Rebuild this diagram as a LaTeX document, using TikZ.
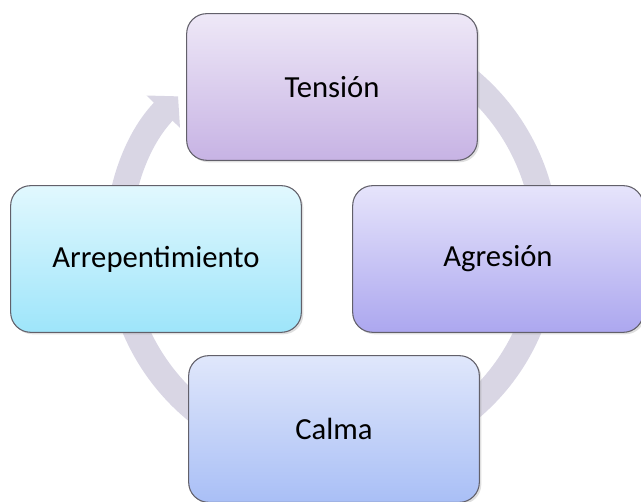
\documentclass[tikz,border=0pt]{standalone}
\usepackage{fontspec}
\setmainfont{Carlito}
\usetikzlibrary{positioning,shadows,arrows.meta}

\definecolor{ringgray}{HTML}{D9D6E4}
\definecolor{edgegray}{HTML}{62606A}
\definecolor{tensiontop}{HTML}{EEE8F7}
\definecolor{tensionbot}{HTML}{C7B3E4}
\definecolor{agresiontop}{HTML}{E6E4FB}
\definecolor{agresionbot}{HTML}{ACA7EF}
\definecolor{arreptop}{HTML}{E1F8FE}
\definecolor{arrepbot}{HTML}{9EE5FA}
\definecolor{calmatop}{HTML}{E0E7FB}
\definecolor{calmabot}{HTML}{A9BFF6}
\tikzset{
  etapa/.style={draw=edgegray,line width=0.8pt,rounded corners=15pt,
    minimum width=218pt,minimum height=110pt,align=center,
    font=\fontsize{23}{27}\selectfont,
    drop shadow={opacity=0.25,shadow xshift=1.5pt,shadow yshift=-1.5pt}},
}

\begin{document}
\begin{tikzpicture}[x=0.75pt,y=0.75pt]
\useasboundingbox (0,0) rectangle (641,502);
%\draw[help lines,step=50] (0,0) grid (641,502);
\coordinate (ctr) at (332,257);
\draw[ringgray,line width=19.5pt,-{Triangle[width=34pt,length=16pt]}]
  (ctr) ++(70:214) arc[start angle=70,end angle=-224,radius=214];
\node[etapa,top color=tensiontop,bottom color=tensionbot] (tension) at (332,415) {Tensión};
\node[etapa,top color=agresiontop,bottom color=agresionbot] (agresion) at (498,243) {Agresión};
\node[etapa,top color=arreptop,bottom color=arrepbot] (arrep) at (156,243) {Arrepentimiento};
\node[etapa,top color=calmatop,bottom color=calmabot] (calma) at (334,73) {Calma};
\end{tikzpicture}
\end{document}
